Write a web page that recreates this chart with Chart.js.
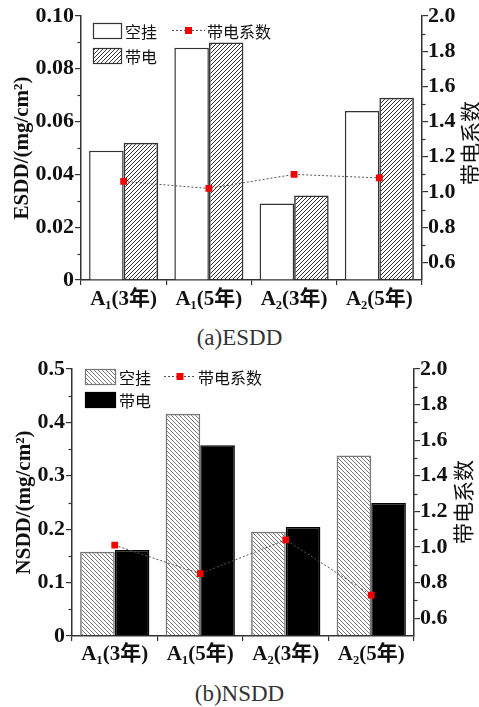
<!DOCTYPE html>
<html lang="zh">
<head>
<meta charset="UTF-8">
<title>ESDD / NSDD</title>
<script src="https://cdn.jsdelivr.net/npm/chart.js"></script>
<style>
  body { margin: 0; background: #fff; width: 479px; height: 707px; position: relative; overflow: hidden; }
  .box { position: absolute; left: 0; width: 479px; }
  .cap { position: absolute; left: 0; width: 479px; text-align: center; font: 23px "Liberation Serif", serif; color: #333; line-height: 26px; }
</style>
</head>
<body>
<div class="box" style="top:0;height:310px"><canvas id="esdd"></canvas></div>
<div class="cap" style="top:325px">(a)ESDD</div>
<div class="box" style="top:340px;height:330px"><canvas id="nsdd"></canvas></div>
<div class="cap" style="top:681px">(b)NSDD</div>

<script>
const categories = ['A₁(3年)', 'A₁(5年)', 'A₂(3年)', 'A₂(5年)'];

// ESDD, mg/cm2
const esddBare = [0.049, 0.088, 0.029, 0.064];
const esddLive = [0.052, 0.090, 0.032, 0.069];
const esddCoef = [1.06, 1.02, 1.10, 1.08];

// NSDD, mg/cm2
const nsddBare = [0.158, 0.416, 0.195, 0.338];
const nsddLive = [0.161, 0.357, 0.204, 0.249];
const nsddCoef = [1.01, 0.85, 1.04, 0.73];

const esddTicks = [0, 0.02, 0.04, 0.06, 0.08, 0.10];
const nsddTicks = [0, 0.1, 0.2, 0.3, 0.4, 0.5];
const coefTicks = [0.6, 0.8, 1.0, 1.2, 1.4, 1.6, 1.8, 2.0];

const SERIF = '"Liberation Serif", "Noto Sans CJK SC", serif';
const CJK = '"Noto Sans CJK SC", sans-serif';
const AXIS = '#333';

// diagonal hatch fill, '/' or '\'
function hatch(dir, color, size) {
  const c = document.createElement('canvas');
  c.width = c.height = size;
  const g = c.getContext('2d');
  g.strokeStyle = color;
  g.lineWidth = 1;
  g.beginPath();
  if (dir === '/') {
    g.moveTo(0, size); g.lineTo(size, 0);
    g.moveTo(-1, 1); g.lineTo(1, -1);
    g.moveTo(size - 1, size + 1); g.lineTo(size + 1, size - 1);
  } else {
    g.moveTo(0, 0); g.lineTo(size, size);
    g.moveTo(-1, size - 1); g.lineTo(1, size + 1);
    g.moveTo(size - 1, -1); g.lineTo(size + 1, 1);
  }
  g.stroke();
  return g.createPattern(c, 'repeat');
}

// short ticks halfway between the labelled ones
const minorTicks = {
  id: 'minorTicks',
  afterDraw(chart) {
    const ctx = chart.ctx;
    ctx.save();
    ctx.strokeStyle = AXIS;
    ctx.lineWidth = 1.2;
    ['y', 'y1'].forEach(id => {
      const s = chart.scales[id];
      const vals = s.ticks.map(t => t.value);
      const left = s.position === 'left';
      const x0 = left ? s.right : s.left;
      const x1 = left ? x0 - 3.5 : x0 + 3.5;
      for (let i = 0; i < vals.length - 1; i++) {
        const y = Math.round(s.getPixelForValue((vals[i] + vals[i + 1]) / 2)) + 0.5;
        ctx.beginPath(); ctx.moveTo(x0, y); ctx.lineTo(x1, y); ctx.stroke();
      }
    });
    ctx.restore();
  }
};

// right-hand axis title, reading bottom to top
const sideTitle = {
  id: 'sideTitle',
  afterDraw(chart, args, o) {
    const ctx = chart.ctx;
    ctx.save();
    ctx.translate(o.x, o.y);
    ctx.rotate(-Math.PI / 2);
    ctx.font = '21px ' + CJK;
    ctx.fillStyle = '#111';
    ctx.textAlign = 'center';
    ctx.textBaseline = 'middle';
    ctx.fillText(o.text, 0, 0);
    ctx.restore();
  }
};

// legend in the plot corner: two bar swatches in a column, the line item beside the first
const cornerLegend = {
  id: 'cornerLegend',
  afterDraw(chart, args, o) {
    const ctx = chart.ctx;
    const ds = chart.data.datasets;
    ctx.save();
    ctx.font = '16px ' + CJK;
    ctx.textBaseline = 'middle';
    [ds[0], ds[1]].forEach((d, i) => {
      const y = o.y + i * o.rowGap;
      ctx.fillStyle = d.backgroundColor;
      ctx.fillRect(o.x, y, o.boxW, o.boxH);
      ctx.strokeStyle = d.borderColor;
      ctx.lineWidth = 1.2;
      ctx.strokeRect(o.x + 0.5, y + 0.5, o.boxW, o.boxH);
      ctx.fillStyle = '#111';
      ctx.fillText(d.label, o.x + o.boxW + 4, y + o.boxH / 2 + 1);
    });
    const ln = ds[2];
    const ly = o.y + o.boxH / 2;
    ctx.strokeStyle = ln.borderColor;
    ctx.lineWidth = 1;
    ctx.setLineDash([2, 2]);
    ctx.beginPath(); ctx.moveTo(o.lineX, ly); ctx.lineTo(o.lineX + o.lineW, ly); ctx.stroke();
    ctx.setLineDash([]);
    ctx.fillStyle = ln.pointBackgroundColor;
    ctx.fillRect(o.lineX + o.lineW / 2 - 3.5, ly - 3.5, 7, 7);
    ctx.fillStyle = '#111';
    ctx.fillText(ln.label, o.lineX + o.lineW + 2, ly + 1);
    ctx.restore();
  }
};

function coefLine(values) {
  return {
    type: 'line',
    label: '带电系数',
    data: values,
    yAxisID: 'y1',
    order: 0,
    borderColor: '#555',
    borderWidth: 1,
    borderDash: [2, 2],
    pointStyle: 'rect',
    pointRadius: 4.8,
    pointBackgroundColor: '#f00000',
    pointBorderColor: '#f00000',
    pointBorderWidth: 0,
    tension: 0
  };
}

function makeChart(id, cfg) {
  const fmt = cfg.fmt;
  new Chart(document.getElementById(id), {
    type: 'bar',
    data: {
      labels: categories,
      datasets: [
        Object.assign({ label: '空挂', data: cfg.bare, order: 1 }, cfg.bareStyle),
        Object.assign({ label: '带电', data: cfg.live, order: 1 }, cfg.liveStyle),
        coefLine(cfg.coef)
      ]
    },
    options: {
      responsive: true,
      maintainAspectRatio: false,
      animation: false,
      layout: { padding: { top: cfg.top, left: 0, right: 0, bottom: 0 } },
      datasets: { bar: { categoryPercentage: 0.81, barPercentage: 1 } },
      plugins: {
        legend: { display: false },
        tooltip: { enabled: false },
        sideTitle: cfg.side,
        cornerLegend: cfg.legend
      },
      scales: {
        x: {
          grid: { drawOnChartArea: false, offset: true, tickLength: 5, color: AXIS, lineWidth: 1.2 },
          border: { color: AXIS, width: 1.5 },
          ticks: { font: { family: SERIF, size: 21, weight: 'bold' }, color: '#111', padding: cfg.xPad, maxRotation: 0 },
          afterFit: s => { s.height = cfg.xH; }
        },
        y: {
          position: 'left',
          min: cfg.yTicks[0],
          max: cfg.yTicks[cfg.yTicks.length - 1],
          afterBuildTicks: s => { s.ticks = cfg.yTicks.map(v => ({ value: v })); },
          grid: { drawOnChartArea: false, tickLength: 6, color: AXIS, lineWidth: 1.2 },
          border: { color: AXIS, width: 1.5 },
          ticks: {
            font: { family: SERIF, size: 22, weight: 'bold' }, color: '#111', padding: 1,
            callback: v => v === 0 ? '0' : v.toFixed(fmt)
          },
          title: {
            display: true, text: cfg.yTitle, color: '#111',
            font: { family: SERIF, size: 21, weight: 'bold' }, padding: { top: cfg.titlePad, bottom: 0 }
          },
          afterFit: s => { s.width = cfg.leftW; }
        },
        y1: {
          position: 'right',
          min: 0.5,
          max: 2.0,
          afterBuildTicks: s => { s.ticks = coefTicks.map(v => ({ value: v })); },
          grid: { drawOnChartArea: false, tickLength: 6, color: AXIS, lineWidth: 1.2 },
          border: { color: AXIS, width: 1.5 },
          ticks: {
            font: { family: SERIF, size: 22, weight: 'bold' }, color: '#111', padding: 0,
            callback: v => v.toFixed(1)
          },
          afterFit: s => { s.width = cfg.rightW; }
        }
      }
    },
    plugins: [minorTicks, sideTitle, cornerLegend]
  });
}

makeChart('esdd', {
  bare: esddBare, live: esddLive, coef: esddCoef,
  bareStyle: { backgroundColor: '#ffffff', borderColor: '#333', borderWidth: 1.5 },
  liveStyle: { backgroundColor: hatch('/', '#333', 4), borderColor: '#333', borderWidth: 1.5 },
  yTicks: esddTicks, fmt: 2, yTitle: 'ESDD/(mg/cm²)', titlePad: 10,
  top: 16, xH: 30, xPad: 2, leftW: 81, rightW: 57,
  side: { text: '带电系数', x: 470, y: 143 },
  legend: { x: 93, y: 23, boxW: 28, boxH: 15, rowGap: 25, lineX: 172, lineW: 33 }
});

makeChart('nsdd', {
  bare: nsddBare, live: nsddLive, coef: nsddCoef,
  bareStyle: { backgroundColor: hatch('\\', '#777', 4), borderColor: '#777', borderWidth: 1.5 },
  liveStyle: { backgroundColor: '#000000', borderColor: '#000', borderWidth: 1.5 },
  yTicks: nsddTicks, fmt: 1, yTitle: 'NSDD/(mg/cm²)', titlePad: 12,
  top: 29, xH: 34, xPad: 1, leftW: 72, rightW: 65,
  side: { text: '带电系数', x: 463, y: 162 },
  legend: { x: 85, y: 29, boxW: 30, boxH: 15, rowGap: 23, lineX: 164, lineW: 32 }
});
</script>
</body>
</html>
